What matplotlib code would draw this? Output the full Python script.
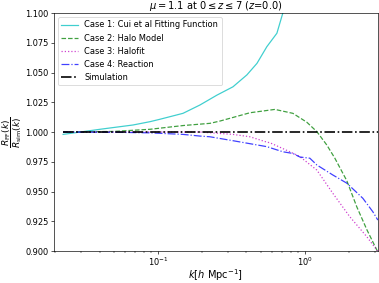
import numpy as np
import matplotlib
matplotlib.use("Agg")
import matplotlib.pyplot as plt

# Case 1: Cui et al fitting function
k_cui = [0.0226, 0.0403, 0.0676, 0.0883, 0.103, 0.148, 0.193, 0.252, 0.324, 0.403, 0.472, 0.551, 0.645, 0.708, 0.76]
r_cui = [0.998, 1.0023, 1.0059, 1.0087, 1.0107, 1.0157, 1.0227, 1.031, 1.038, 1.048, 1.0577, 1.0717, 1.083, 1.1, 1.115]

# Case 2: Halo model
k_halo = [0.0226, 0.05, 0.0883, 0.15, 0.226, 0.264, 0.423, 0.625, 0.829, 1.032, 1.207, 1.412, 1.600, 1.931, 2.259, 2.641, 3.09, 3.14]
r_halo = [1.000, 1.0005, 1.0023, 1.0055, 1.0073, 1.0092, 1.0162, 1.019, 1.0157, 1.0082, 1.0003, 0.989, 0.978, 0.959, 0.937, 0.918, 0.9008, 0.899]

# Case 3: Halofit
k_hf = [0.0226, 0.05, 0.1, 0.193, 0.324, 0.423, 0.551, 0.578, 0.791, 0.925, 1.207, 1.550, 2.023, 2.641, 3.09, 3.14]
r_hf = [1.000, 1.000, 1.000, 1.000, 0.998, 0.996, 0.9915, 0.991, 0.9834, 0.9793, 0.968, 0.9485, 0.9288, 0.912, 0.9008, 0.899]

# Case 4: Reaction
k_re = [0.0226, 0.05, 0.0883, 0.148, 0.193, 0.226, 0.324, 0.551, 0.708, 0.829, 0.925, 1.081, 1.207, 1.550, 1.931, 2.482, 2.902, 3.14]
r_re = [1.000, 0.9998, 0.9993, 0.998, 0.9966, 0.996, 0.9927, 0.9877, 0.9834, 0.982, 0.979, 0.978, 0.9723, 0.9639, 0.957, 0.9443, 0.933, 0.926]

# Simulation
k_sim = [0.0226, 3.14]
r_sim = [1.0, 1.0]

yticks = [0.900, 0.925, 0.950, 0.975, 1.000, 1.025, 1.050, 1.075, 1.100]

dpi = 59.2
fig = plt.figure(figsize=(379 / dpi, 283 / dpi), dpi=dpi)
ax = fig.add_axes([0.1425, 0.113, 0.8545, 0.841])

ax.plot(k_cui, r_cui, color='c', alpha=0.75, lw=1.5, ls='-', label='Case 1: Cui et al Fitting Function')
ax.plot(k_halo, r_halo, color='g', alpha=0.75, lw=1.5, ls='--', label='Case 2: Halo Model')
ax.plot(k_hf, r_hf, color='m', alpha=0.75, lw=1.5, ls=':', label='Case 3: Halofit')
ax.plot(k_re, r_re, color='b', alpha=0.75, lw=1.5, ls='-.', label='Case 4: Reaction')
ax.plot(k_sim, r_sim, color='k', lw=2, ls='-.', label='Simulation')

ax.set_xscale('log')
ax.set_xlim(0.0196, 3.14)
ax.set_ylim(0.9, 1.1)
ax.set_yticks(yticks)
ax.set_yticklabels([f"{v:.3f}" for v in yticks])
ax.tick_params(axis='y', labelsize=10, pad=3)
ax.tick_params(axis='x', labelsize=10, pad=2)
ax.set_xlabel(r'$k[h\ \mathrm{Mpc}^{-1}]$', fontsize=12, labelpad=-1)
ax.set_ylabel(r'$\dfrac{R_{\rm FF}(k)}{R_{\rm sim}(k)}$', fontsize=11, labelpad=1)
ax.set_title(r'$\mu=1.1$ at $0\leq z\leq 7$ ($z$=0.0)', fontsize=12, pad=3)
ax.legend(loc='upper left', fontsize=10)

fig.savefig('out.png', dpi=dpi)
